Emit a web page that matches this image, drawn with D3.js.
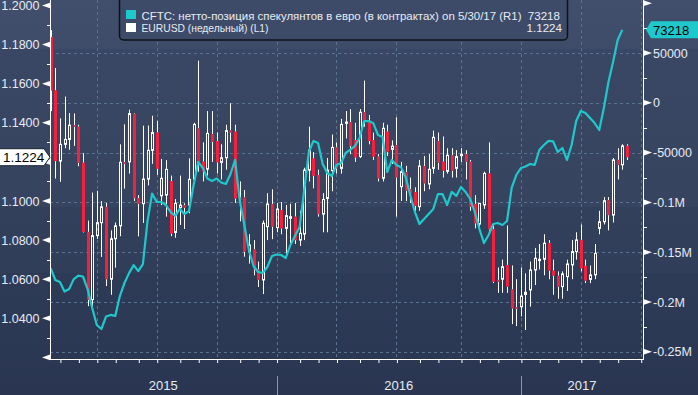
<!DOCTYPE html>
<html>
<head>
<meta charset="utf-8">
<script src="https://cdn.jsdelivr.net/npm/d3@7"></script>
<style>
  body { margin: 0; background: #2b3853; }
  svg { display: block; font-family: "Liberation Sans", Arial, sans-serif; }
</style>
</head>
<body>
<svg id="chart" width="698" height="395"></svg>
<script>
// weekly bars, first bar dated Friday 16 Jan 2015
const START = new Date(2015, 0, 16);

const OPEN = [
  1.1839, 1.1566, 1.1204, 1.1290, 1.1315, 1.1388, 1.1380, 1.1196, 1.0842, 1.0496,
  1.0823, 1.0889, 1.0970, 1.0600, 1.0807, 1.0873, 1.1198, 1.1200, 1.1447, 1.1015,
  1.0986, 1.1112, 1.1259, 1.1350, 1.1027, 1.1030, 1.1102, 1.0839, 1.0966, 1.0979,
  1.0979, 1.1112, 1.1371, 1.1201, 1.1163, 1.1342, 1.1307, 1.1198, 1.1221, 1.1361,
  1.1355, 1.1016, 1.1019, 1.0741, 1.0753, 1.0650, 1.0596, 1.0869, 1.0985, 1.0864,
  1.0954, 1.0860, 1.0911, 1.0920, 1.0800, 1.0831, 1.1158, 1.1218, 1.1133, 1.0933,
  1.1013, 1.1155, 1.1274, 1.1167, 1.1397, 1.1404, 1.1312, 1.1227, 1.1454, 1.1402,
  1.1312, 1.1227, 1.1116, 1.1355, 1.1264, 1.1286, 1.1073, 1.1147, 1.1060, 1.1046,
  1.0971, 1.1179, 1.1087, 1.1167, 1.1307, 1.1201, 1.1152, 1.1234, 1.1167, 1.1232,
  1.1240, 1.1201, 1.0985, 1.0882, 1.0980, 1.1141, 1.0855, 1.0596, 1.0600, 1.0673,
  1.0548, 1.0456, 1.0459, 1.0522, 1.0545, 1.0647, 1.0695, 1.0702, 1.0784, 1.0644,
  1.0618, 1.0562, 1.0613, 1.0673, 1.0741, 1.0801, 1.0668, 1.0599, 1.0622, 1.0860,
  1.0894, 1.1005, 1.0928, 1.1210, 1.1185, 1.1282
];
const HIGH = [
  1.1874, 1.1680, 1.1423, 1.1534, 1.1450, 1.1448, 1.1390, 1.1245, 1.0900, 1.1043,
  1.1052, 1.1000, 1.0990, 1.0850, 1.0890, 1.1290, 1.1392, 1.1467, 1.1450, 1.1030,
  1.1385, 1.1386, 1.1436, 1.1410, 1.1215, 1.1209, 1.1130, 1.1010, 1.1130, 1.0988,
  1.1218, 1.1400, 1.1718, 1.1300, 1.1460, 1.1460, 1.1350, 1.1290, 1.1390, 1.1500,
  1.1390, 1.1100, 1.1056, 1.0830, 1.0800, 1.0690, 1.0900, 1.1040, 1.1060, 1.0990,
  1.0995, 1.0980, 1.0986, 1.0990, 1.0950, 1.1170, 1.1380, 1.1250, 1.1160, 1.1040,
  1.1220, 1.1340, 1.1300, 1.1420, 1.1460, 1.1470, 1.1400, 1.1470, 1.1616, 1.1440,
  1.1350, 1.1240, 1.1400, 1.1390, 1.1310, 1.1428, 1.1200, 1.1180, 1.1120, 1.1070,
  1.1210, 1.1230, 1.1240, 1.1360, 1.1350, 1.1330, 1.1270, 1.1270, 1.1260, 1.1270,
  1.1260, 1.1210, 1.1030, 1.0990, 1.1150, 1.1300, 1.0880, 1.0660, 1.0700, 1.0875,
  1.0670, 1.0600, 1.0660, 1.0630, 1.0690, 1.0760, 1.0780, 1.0830, 1.0800, 1.0700,
  1.0640, 1.0640, 1.0700, 1.0800, 1.0840, 1.0880, 1.0700, 1.0670, 1.0780, 1.0950,
  1.1020, 1.1020, 1.1220, 1.1270, 1.1290, 1.1290
];
const LOW = [
  1.1460, 1.1115, 1.1098, 1.1270, 1.1262, 1.1282, 1.1178, 1.0839, 1.0462, 1.0458,
  1.0806, 1.0714, 1.0565, 1.0520, 1.0659, 1.0820, 1.1063, 1.1140, 1.1000, 1.0819,
  1.0888, 1.1080, 1.1190, 1.1134, 1.0979, 1.0920, 1.0820, 1.0812, 1.0877, 1.0857,
  1.0937, 1.1090, 1.1150, 1.1100, 1.1130, 1.1200, 1.1141, 1.1110, 1.1160, 1.1300,
  1.0990, 1.0896, 1.0715, 1.0680, 1.0620, 1.0560, 1.0524, 1.0800, 1.0805, 1.0840,
  1.0830, 1.0712, 1.0770, 1.0780, 1.0770, 1.0800, 1.1100, 1.1065, 1.0920, 1.0840,
  1.0840, 1.1050, 1.1140, 1.1140, 1.1320, 1.1240, 1.1200, 1.1220, 1.1380, 1.1290,
  1.1210, 1.1100, 1.1100, 1.1230, 1.1190, 1.0920, 1.1000, 1.1000, 1.0990, 1.0950,
  1.0950, 1.1050, 1.1060, 1.1140, 1.1160, 1.1120, 1.1140, 1.1120, 1.1120, 1.1200,
  1.1110, 1.0950, 1.0860, 1.0860, 1.0960, 1.0840, 1.0580, 1.0530, 1.0530, 1.0530,
  1.0370, 1.0360, 1.0410, 1.0340, 1.0460, 1.0570, 1.0650, 1.0620, 1.0600, 1.0520,
  1.0500, 1.0500, 1.0540, 1.0600, 1.0700, 1.0640, 1.0580, 1.0580, 1.0600, 1.0830,
  1.0880, 1.0850, 1.0890, 1.1110, 1.1160, 1.1210
];
const CLOSE = [
  1.1566, 1.1204, 1.1290, 1.1315, 1.1388, 1.1380, 1.1196, 1.0842, 1.0496, 1.0823,
  1.0889, 1.0970, 1.0600, 1.0807, 1.0873, 1.1198, 1.1192, 1.1447, 1.1015, 1.0986,
  1.1112, 1.1259, 1.1350, 1.1165, 1.1116, 1.1162, 1.0834, 1.0988, 1.0979, 1.0966,
  1.1111, 1.1392, 1.1201, 1.1150, 1.1346, 1.1303, 1.1198, 1.1221, 1.1360, 1.1351,
  1.1013, 1.1005, 1.0741, 1.0775, 1.0650, 1.0596, 1.0886, 1.0985, 1.0869, 1.0959,
  1.0860, 1.0925, 1.0920, 1.0800, 1.0835, 1.1158, 1.1261, 1.1128, 1.0933, 1.1008,
  1.1158, 1.1274, 1.1167, 1.1392, 1.1404, 1.1281, 1.1223, 1.1454, 1.1406, 1.1307,
  1.1227, 1.1116, 1.1372, 1.1252, 1.1281, 1.1121, 1.1150, 1.1053, 1.1039, 1.0976,
  1.1179, 1.1090, 1.1162, 1.1326, 1.1196, 1.1155, 1.1234, 1.1155, 1.1227, 1.1239,
  1.1201, 1.0971, 1.0886, 1.0988, 1.1141, 1.0855, 1.0587, 1.0587, 1.0664, 1.0562,
  1.0451, 1.0449, 1.0514, 1.0533, 1.0647, 1.0707, 1.0702, 1.0784, 1.0644, 1.0618,
  1.0562, 1.0627, 1.0678, 1.0741, 1.0801, 1.0656, 1.0593, 1.0622, 1.0732, 1.0894,
  1.1002, 1.0928, 1.1210, 1.1185, 1.1282, 1.1224
];

// CFTC net speculative EUR position, contracts
const CFTC = [
  -165900, -177900, -179900, -189500, -187000, -177000, -173600, -174400, -187000, -206000,
  -223100, -227100, -214600, -213000, -214000, -194000, -181000, -171000, -163000, -169000,
  -162000, -118900, -91100, -99600, -99600, -102600, -109600, -113700, -106600, -111600,
  -108600, -82500, -59400, -65500, -76100, -78500, -76000, -80000, -81500, -71500,
  -57400, -97600, -122700, -147800, -163900, -169900, -170900, -164900, -153800, -152300,
  -152800, -155800, -142700, -133700, -124700, -87500, -49400, -38300, -40400, -61400,
  -70500, -73500, -62400, -60400, -50400, -46900, -43400, -35300, -18300, -18300,
  -20600, -32300, -34300, -69500, -57400, -62400, -64600, -74500, -92600, -109600,
  -121700, -116600, -111600, -106600, -91600, -91600, -102600, -89500, -93500, -84500,
  -89500, -96600, -109600, -126700, -140800, -132700, -121700, -120700, -122700, -118700,
  -85500, -72500, -65500, -64000, -61400, -62400, -47400, -42400, -38300, -38800,
  -49400, -45400, -57400, -42400, -18300, -8200, -10200, -15300, -20300, -27300,
  -5200, 20900, 41000, 63000, 73218
];

const PRICE_TICKS = [1.02, 1.04, 1.06, 1.08, 1.10, 1.12, 1.14, 1.16, 1.18, 1.20];
const PRICE_LABELS = ["", "1.0400", "1.0600", "1.0800", "1.1000", "", "1.1400", "1.1600", "1.1800", "1.2000"];
const PRICE_MINOR = [1.03, 1.05, 1.07, 1.09, 1.11, 1.13, 1.15, 1.17, 1.19];
const POS_TICKS = [100000, 50000, 0, -50000, -100000, -150000, -200000, -250000];
const POS_LABELS = ["", "50000", "0", "-50000", "-0.1M", "-0.15M", "-0.2M", "-0.25M"];
const POS_MINOR = [75000, 25000, -25000, -75000, -125000, -175000, -225000];
const YEARS = [2015, 2016, 2017];

const LEGEND_CFTC = "CFTC: нетто-позиция спекулянтов в евро (в контрактах) on 5/30/17 (R1)";
const LEGEND_FX = "EURUSD (недельный) (L1)";
const LAST_CFTC = "73218";
const LAST_FX = "1.1224";

const W = 698, H = 395;
const LEFT = 50, RIGHT = 643, TOP = 0, BOTTOM = 359;
const RED = "#f81f3d", CYAN = "#1fc8cb", GRID = "#5b7190", TXT = "#e6ebf4";

const svg = d3.select("#chart");
const dates = OPEN.map((d, i) => d3.timeDay.offset(START, 7 * i));
const bars = OPEN.map((o, i) => ({date: dates[i], o: o, h: HIGH[i], l: LOW[i], c: CLOSE[i]}));
const flows = CFTC.map((v, i) => ({date: dates[i], v: v}));

const x = d3.scaleTime()
    .domain([dates[0], dates[dates.length - 1]])
    .range([50.7, 626.9]);
const y = d3.scaleLinear().domain([1.02, 1.20]).range([357.4, 5.5]);
const y2 = d3.scaleLinear().domain([-250000, 100000]).range([351.8, 3.2]);

// background bands
const defs = svg.append("defs");
const grad = defs.append("linearGradient").attr("id", "bg")
    .attr("x1", 0).attr("y1", 0).attr("x2", 0).attr("y2", 1);
[[0, "#424f6c"], [0.124, "#3f4c69"], [0.125, "#3a4764"], [0.524, "#37445f"],
 [0.525, "#33405c"], [0.69, "#313e5a"], [0.692, "#2e3b57"], [1, "#2a3651"]]
  .forEach(s => grad.append("stop").attr("offset", s[0]).attr("stop-color", s[1]));
svg.append("rect").attr("width", W).attr("height", H).attr("fill", "url(#bg)");

defs.append("clipPath").attr("id", "plot")
  .append("rect").attr("x", LEFT).attr("y", TOP).attr("width", RIGHT - LEFT).attr("height", BOTTOM - TOP);

// last Friday strictly before a calendar boundary -> bar position
const barBefore = d => d3.timeFriday.floor(d3.timeDay.offset(d, -1));
const quarters = d3.timeMonth.every(3).range(new Date(2015, 0, 1), new Date(2017, 6, 2))
    .map(barBefore).filter(d => x(d) > LEFT);
const months = d3.timeMonth.range(new Date(2015, 0, 1), new Date(2017, 6, 2))
    .map(barBefore).filter(d => x(d) > LEFT && x(d) < RIGHT);
const yearEdges = YEARS.slice(1).map(yr => x(barBefore(new Date(yr, 0, 1))));

// grid
const grid = svg.append("g").attr("stroke", GRID).attr("stroke-dasharray", "3,3")
    .attr("shape-rendering", "crispEdges");
grid.selectAll(".gv").data(quarters).enter().append("line")
    .attr("x1", d => Math.round(x(d)) + 0.5).attr("x2", d => Math.round(x(d)) + 0.5)
    .attr("y1", TOP).attr("y2", BOTTOM);
grid.selectAll(".gh").data(POS_TICKS.filter(v => v < 100000)).enter().append("line")
    .attr("x1", LEFT).attr("x2", RIGHT)
    .attr("y1", d => Math.round(y2(d)) + 0.5).attr("y2", d => Math.round(y2(d)) + 0.5);

// candles
const plot = svg.append("g").attr("clip-path", "url(#plot)");
const candle = plot.selectAll(".candle").data(bars).enter().append("g")
    .attr("transform", d => `translate(${Math.round(x(d.date))},0)`);
candle.append("line")
    .attr("x1", 0.5).attr("x2", 0.5)
    .attr("y1", d => y(d.h)).attr("y2", d => y(Math.max(d.o, d.c)))
    .attr("stroke", "#ffffff");
candle.append("line")
    .attr("x1", 0.5).attr("x2", 0.5)
    .attr("y1", d => y(Math.min(d.o, d.c))).attr("y2", d => y(d.l))
    .attr("stroke", "#ffffff");
candle.filter(d => d.c < d.o).append("rect")
    .attr("x", -1).attr("width", 3)
    .attr("y", d => y(d.o))
    .attr("height", d => Math.max(1.5, y(d.c) - y(d.o)))
    .attr("fill", RED);
candle.filter(d => d.c >= d.o).append("rect")
    .attr("x", -0.5).attr("width", 2)
    .attr("y", d => y(d.c))
    .attr("height", d => Math.max(1, y(d.o) - y(d.c)))
    .attr("fill", "none").attr("stroke", "#ffffff");

// CFTC line
plot.append("path").datum(flows)
    .attr("fill", "none").attr("stroke", CYAN).attr("stroke-width", 2.2)
    .attr("stroke-linejoin", "round")
    .attr("d", d3.line().x(d => x(d.date)).y(d => y2(d.v)));

// axis lines
const axes = svg.append("g").attr("stroke", "#ffffff").attr("shape-rendering", "crispEdges");
axes.append("line").attr("x1", LEFT + 0.5).attr("x2", LEFT + 0.5).attr("y1", 0).attr("y2", BOTTOM + 0.5);
axes.append("line").attr("x1", RIGHT + 0.5).attr("x2", RIGHT + 0.5).attr("y1", 0).attr("y2", BOTTOM + 0.5);
axes.append("line").attr("x1", LEFT).attr("x2", RIGHT + 1).attr("y1", BOTTOM + 0.5).attr("y2", BOTTOM + 0.5);

// left axis
const leftAxis = svg.append("g").attr("transform", `translate(${LEFT},0)`)
    .call(d3.axisLeft(y).tickValues(PRICE_TICKS).tickSize(0).tickPadding(10.5)
      .tickFormat((v, i) => PRICE_LABELS[i]));
leftAxis.select(".domain").remove();
leftAxis.selectAll("text").attr("fill", TXT).attr("font-size", "12.5px")
    .attr("font-family", "Liberation Sans, Arial, sans-serif");
svg.selectAll(".lt").data(PRICE_TICKS).enter().append("path")
    .attr("d", v => `M${LEFT},${y(v) - 2.8}L${LEFT},${y(v) + 2.8}L${LEFT - 8},${y(v)}Z`)
    .attr("fill", "#ffffff");
svg.selectAll(".lm").data(PRICE_MINOR).enter().append("line")
    .attr("x1", LEFT - 3).attr("x2", LEFT)
    .attr("y1", v => Math.round(y(v)) + 0.5).attr("y2", v => Math.round(y(v)) + 0.5)
    .attr("stroke", "#ffffff");

// right axis
const rightAxis = svg.append("g").attr("transform", `translate(${RIGHT},0)`)
    .call(d3.axisRight(y2).tickValues(POS_TICKS).tickSize(0).tickPadding(10)
      .tickFormat((v, i) => POS_LABELS[i]));
rightAxis.select(".domain").remove();
rightAxis.selectAll("text").attr("fill", TXT).attr("font-size", "12.5px")
    .attr("font-family", "Liberation Sans, Arial, sans-serif");
svg.selectAll(".rt").data(POS_TICKS).enter().append("path")
    .attr("d", v => `M${RIGHT + 1},${y2(v) - 2.8}L${RIGHT + 1},${y2(v) + 2.8}L${RIGHT + 9},${y2(v)}Z`)
    .attr("fill", "#ffffff");
svg.selectAll(".rm").data(POS_MINOR).enter().append("line")
    .attr("x1", RIGHT).attr("x2", RIGHT + 4)
    .attr("y1", v => Math.round(y2(v)) + 0.5).attr("y2", v => Math.round(y2(v)) + 0.5)
    .attr("stroke", "#ffffff");

// bottom month ticks
const bottomAxis = svg.append("g").attr("transform", `translate(0,${BOTTOM})`)
    .call(d3.axisBottom(x).tickValues(months).tickSize(4).tickFormat(""));
bottomAxis.select(".domain").remove();
bottomAxis.selectAll("line").attr("stroke", "#ffffff")
    .attr("transform", "translate(0.5,0)");

// year separators and labels
svg.selectAll(".ysep").data(yearEdges).enter().append("line")
    .attr("x1", d => Math.round(d) + 0.5).attr("x2", d => Math.round(d) + 0.5)
    .attr("y1", 376).attr("y2", H).attr("stroke", "#8a97ad");
const bounds = [LEFT].concat(yearEdges, [RIGHT]);
svg.selectAll(".year").data(YEARS).enter().append("text")
    .attr("x", (d, i) => (bounds[i] + bounds[i + 1]) / 2)
    .attr("y", 390).attr("text-anchor", "middle")
    .attr("fill", TXT).attr("font-size", "13px").text(d => d);

// last value tags
const lastY = y(CLOSE[CLOSE.length - 1]);
svg.append("path")
    .attr("d", `M-1,${lastY - 8.5}L44,${lastY - 8.5}L50,${lastY}L44,${lastY + 8.5}L-1,${lastY + 8.5}Z`)
    .attr("fill", "#ffffff").attr("stroke", "#1a2030").attr("stroke-width", 1);
svg.append("text").attr("x", 3).attr("y", lastY + 5)
    .attr("fill", "#000000").attr("font-size", "13.5px").text(LAST_FX);

const lastY2 = y2(CFTC[CFTC.length - 1]);
svg.append("path")
    .attr("d", `M646,${lastY2}L651,${lastY2 - 8.5}L699,${lastY2 - 8.5}L699,${lastY2 + 8.5}L651,${lastY2 + 8.5}Z`)
    .attr("fill", CYAN);
svg.append("text").attr("x", 653).attr("y", lastY2 + 5)
    .attr("fill", "#000000").attr("font-size", "13px").text(LAST_CFTC);

// legend
const lg = svg.append("g");
lg.append("rect").attr("x", 119.5).attr("y", -6).attr("width", 448).attr("height", 46)
    .attr("rx", 4).attr("fill", "#3e4b68").attr("stroke", "#0e121a").attr("stroke-width", 1.5);
lg.append("rect").attr("x", 126).attr("y", 10).attr("width", 10).attr("height", 9).attr("fill", CYAN);
lg.append("rect").attr("x", 126).attr("y", 23).attr("width", 10).attr("height", 9).attr("fill", "#ffffff");
lg.append("text").attr("x", 141.5).attr("y", 19.5).attr("fill", TXT).attr("font-size", "11.6px")
    .attr("textLength", 380).attr("lengthAdjust", "spacingAndGlyphs").text(LEGEND_CFTC);
lg.append("text").attr("x", 141.5).attr("y", 32).attr("fill", TXT).attr("font-size", "11.6px")
    .attr("textLength", 127).attr("lengthAdjust", "spacingAndGlyphs").text(LEGEND_FX);
lg.append("text").attr("x", 560).attr("y", 19.5).attr("text-anchor", "end").attr("fill", TXT)
    .attr("font-size", "11.6px").text(LAST_CFTC);
lg.append("text").attr("x", 562).attr("y", 32).attr("text-anchor", "end").attr("fill", TXT)
    .attr("font-size", "11.6px").text(LAST_FX);
</script>
</body>
</html>
